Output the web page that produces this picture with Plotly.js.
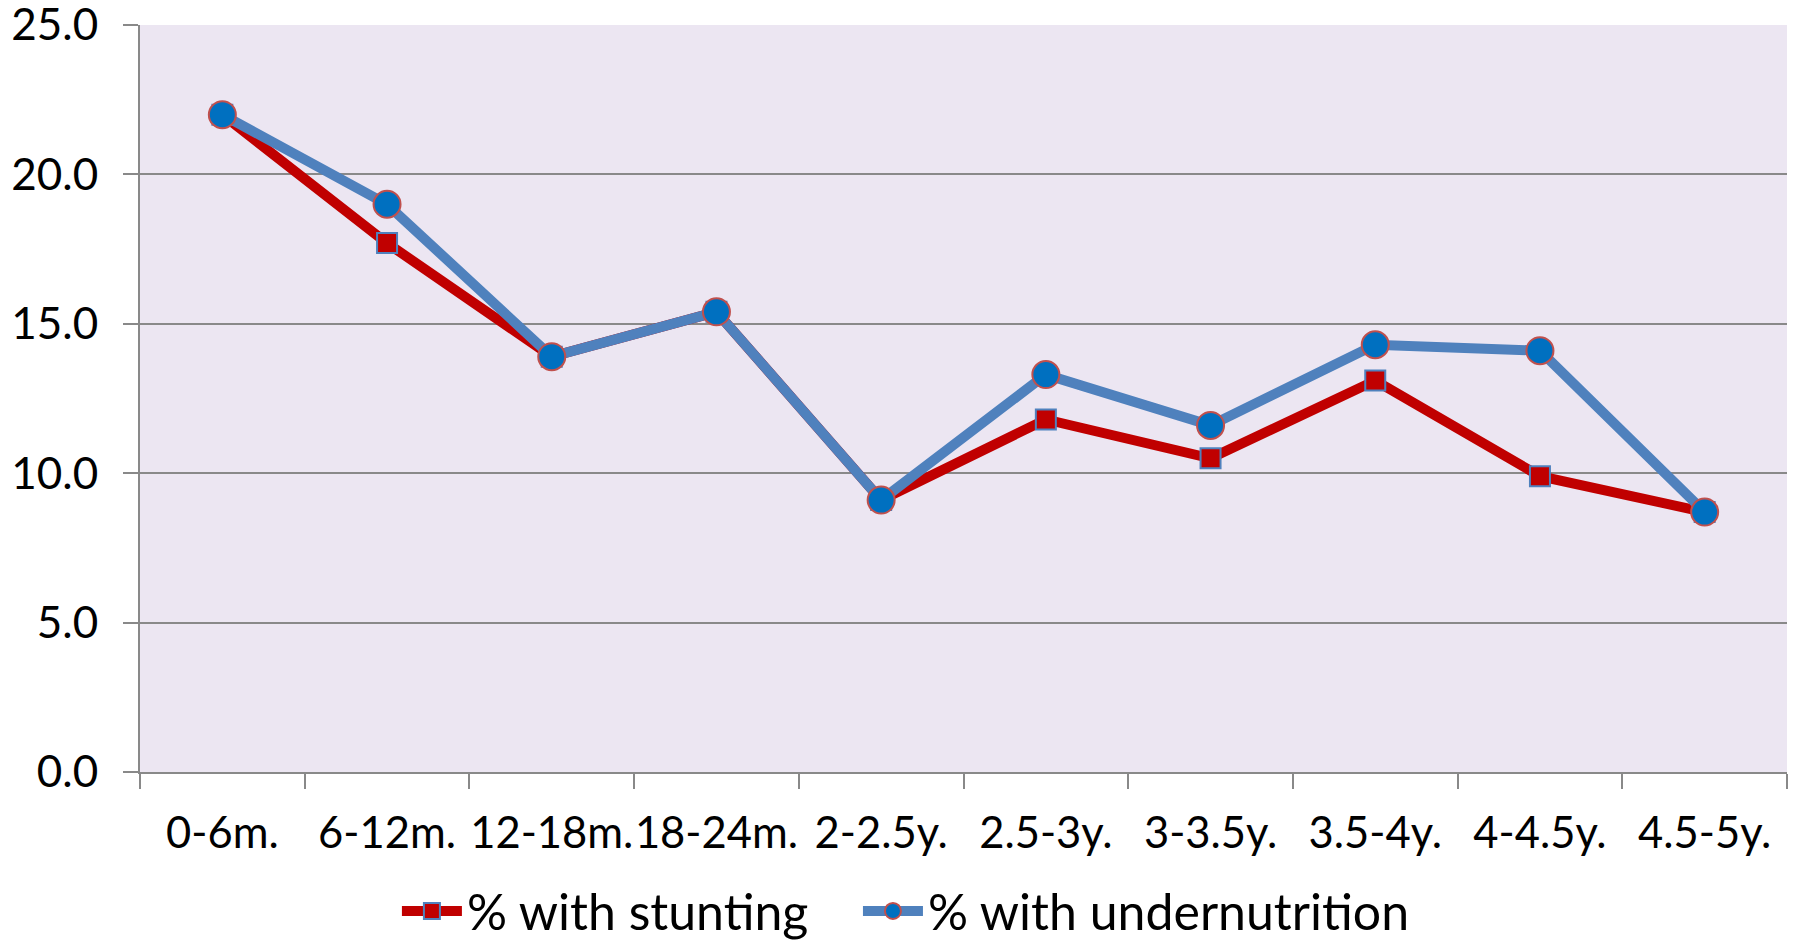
<!DOCTYPE html>
<html>
<head>
<meta charset="utf-8">
<script src="https://cdn.plot.ly/plotly-3.0.1.min.js"></script>
<style>
  html, body { margin: 0; padding: 0; background: #ffffff; }
  #chart { width: 1796px; height: 943px; }
</style>
</head>
<body>
<div id="chart"></div>
<script>
const categories = ["0-6m.", "6-12m.", "12-18m.", "18-24m.", "2-2.5y.", "2.5-3y.", "3-3.5y.", "3.5-4y.", "4-4.5y.", "4.5-5y."];
const stunting = [22.0, 17.7, 13.9, 15.4, 9.1, 11.8, 10.5, 13.1, 9.9, 8.7];
const undernutrition = [22.0, 19.0, 13.9, 15.4, 9.1, 13.3, 11.6, 14.3, 14.1, 8.7];
const yTickVals = [0, 5, 10, 15, 20, 25];
const yTickText = ["0.0", "5.0", "10.0", "15.0", "20.0", "25.0"];

const FONT = "Lato, 'Open Sans', sans-serif";

const traces = [
  {
    type: "scatter",
    mode: "lines+markers",
    name: "% with stunting",
    legend: "legend",
    x: categories,
    y: stunting,
    line: { color: "#C00000", width: 10 },
    marker: { symbol: "square", size: 20, color: "#C00000", line: { color: "#4F81BD", width: 2 } }
  },
  {
    type: "scatter",
    mode: "lines+markers",
    name: "% with undernutrition",
    legend: "legend2",
    x: categories,
    y: undernutrition,
    line: { color: "#4F81BD", width: 10 },
    marker: { symbol: "circle", size: 27, color: "#0070C0", line: { color: "#C0504D", width: 2 } }
  }
];

const legendCommon = {
  orientation: "h",
  xanchor: "left",
  xref: "container",
  y: 0.034,
  yanchor: "middle",
  yref: "container",
  itemwidth: 60,
  font: { family: FONT, size: 50, color: "#000000" },
  bgcolor: "rgba(0,0,0,0)"
};

const layout = {
  width: 1796,
  height: 943,
  margin: { l: 140, r: 9, t: 25, b: 171 },
  paper_bgcolor: "#ffffff",
  plot_bgcolor: "#ECE6F2",
  font: { family: FONT, size: 43, color: "#000000" },
  showlegend: true,
  legend: Object.assign({}, legendCommon, { x: 0.221 }),
  legend2: Object.assign({}, legendCommon, { x: 0.4777 }),
  xaxis: {
    type: "category",
    tickson: "boundaries",
    ticks: "outside",
    ticklen: 15,
    tickwidth: 2,
    tickcolor: "#898989",
    showline: true,
    linecolor: "#898989",
    linewidth: 2,
    showgrid: false,
    zeroline: false,
    tickangle: 0,
    ticklabelstandoff: 22,
    ticklabeloverflow: "allow",
    tickfont: { family: FONT, size: 43.5, color: "#000000" },
    range: [-0.5, 9.5]
  },
  yaxis: {
    range: [0, 25],
    tickvals: yTickVals,
    ticktext: yTickText,
    ticks: "outside",
    ticklen: 15,
    tickwidth: 2,
    tickcolor: "#898989",
    showline: true,
    linecolor: "#898989",
    linewidth: 2,
    showgrid: true,
    gridcolor: "#898989",
    gridwidth: 2,
    zeroline: false,
    ticklabelstandoff: 16,
    ticklabeloverflow: "allow",
    tickfont: { family: FONT, size: 44, color: "#000000" }
  }
};

Plotly.newPlot("chart", traces, layout, { displayModeBar: false, staticPlot: true });
</script>
</body>
</html>
